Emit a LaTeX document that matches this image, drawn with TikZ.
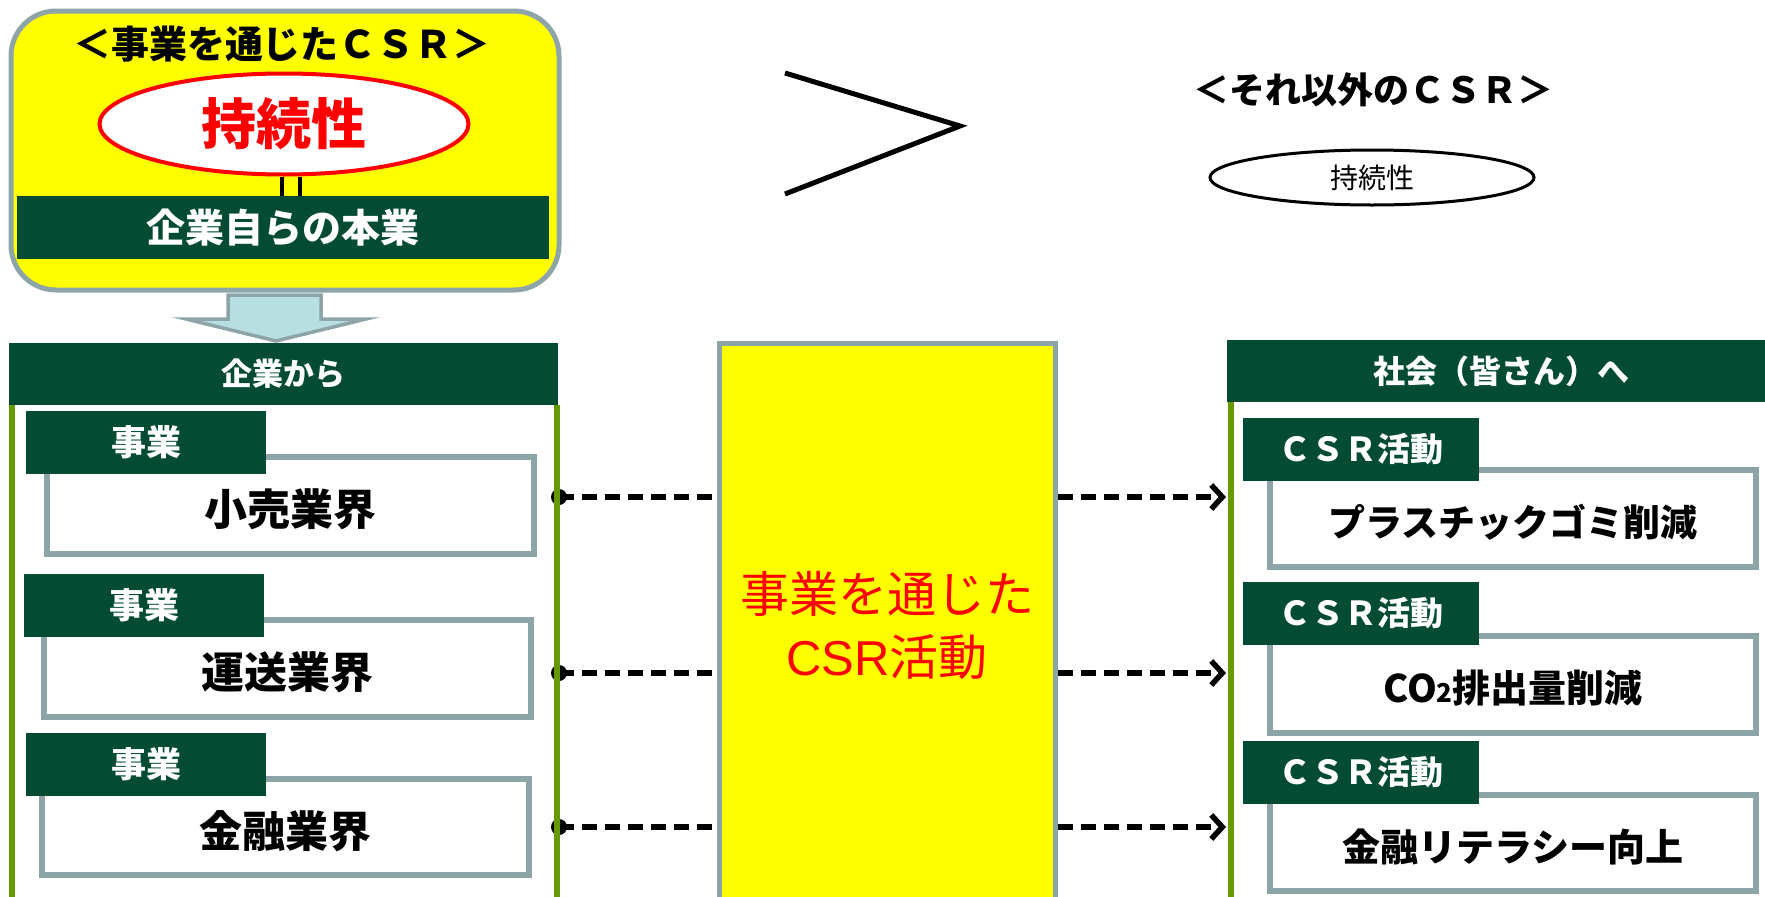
\documentclass[tikz,border=0pt]{standalone}
\usepackage{fontspec}
\setmainfont{Noto Sans CJK JP}
\newfontfamily\latinf{Liberation Sans}
\usetikzlibrary{arrows.meta,shapes.geometric}
\definecolor{dkgreen}{HTML}{034B33}
\definecolor{grayb}{HTML}{8DA5A8}
\definecolor{lgreen}{HTML}{669900}
\definecolor{lblue}{HTML}{B7DEE1}
\definecolor{pureyellow}{RGB}{255,255,0}
\newcommand{\myfs}[1]{\fontsize{#1}{#1}\selectfont}
\begin{document}
\begin{tikzpicture}[x=1pt,y=-1pt,
  tab/.style={fill=dkgreen, text=white, font=\bfseries\myfs{35}, minimum height=63pt, inner sep=0pt},
  itembox/.style={draw=grayb, line width=6pt, fill=white, minimum width=487pt, minimum height=97pt, inner sep=0pt},
  header/.style={fill=dkgreen, text=white, font=\bfseries\myfs{31}, minimum height=62pt, inner sep=0pt},
  greenline/.style={draw=lgreen, line width=5.5pt},
  conn/.style={line width=6pt, dash pattern=on 15pt off 8pt},
  endtip/.style={-{Straight Barb[length=11pt,width=24pt,line width=5.5pt]}}
]
\useasboundingbox (0,0) rectangle (1765,897);
\clip (0,0) rectangle (1765,897);

% ---------- top left ----------
\node[draw=grayb, line width=5pt, fill=pureyellow, rounded corners=45pt, minimum width=548pt, minimum height=279pt, inner sep=0pt] (topbox) at (285,150.5) {};
\node[font=\bfseries\myfs{38}] (toptitle) at (282,44) {＜事業を通じたＣＳＲ＞};
\node[ellipse, draw=red, line width=4pt, fill=white, minimum width=369pt, minimum height=101pt, inner sep=0pt, text=red, font=\bfseries\myfs{55}] (sus) at (284,124) {持続性};
\node[fill=dkgreen, text=white, font=\bfseries\myfs{39}, minimum width=532pt, minimum height=63pt, inner sep=0pt] (core) at (283,227.5) {企業自らの本業};
\draw[line width=3.5pt] ([xshift=-2pt]sus.south) -- ([xshift=-2pt]sus.south |- core.north);
\draw[line width=3.5pt] ([xshift=16pt]sus.south) -- ([xshift=16pt]sus.south |- core.north);

% block arrow
\draw[draw=grayb, line width=3.5pt, fill=lblue, line join=miter]
  (228,295) -- (321,295) -- (321,319) -- (366,319) -- (276,341) -- (186,319) -- (228,319) -- cycle;

% ---------- chevron ----------
\draw[line width=5pt, line join=miter] (785,73) -- (960,126) -- (785,194);

% ---------- top right ----------
\node[font=\bfseries\myfs{36}] (rtitle) at (1373,90) {＜それ以外のＣＳＲ＞};
\node[ellipse, draw, line width=3pt, minimum width=324pt, minimum height=55pt, inner sep=0pt, font=\myfs{28}] (rsus) at (1372,177.5) {持続性};

% ---------- left column ----------
\node[header, minimum width=549pt] (lhead) at (283.5,374) {企業から};
\coordinate (ll) at (12,405);
\coordinate (lr) at (557,405);

\node[itembox] (b1) at (290,505) {};
\node[font=\bfseries\myfs{43}] at (290,509) {小売業界};
\node[tab, minimum width=240pt] (t1) at (146,442) {事業};

\node[itembox] (b2) at (287.5,668) {};
\node[font=\bfseries\myfs{43}] at (287.5,672) {運送業界};
\node[tab, minimum width=240pt] (t2) at (144,605) {事業};

\node[itembox, minimum height=96pt] (b3) at (285,827) {};
\node[font=\bfseries\myfs{43}] at (285,831) {金融業界};
\node[tab, minimum width=240pt] (t3) at (146,764) {事業};

% ---------- centre ----------
\node[draw=grayb, line width=5pt, fill=pureyellow, minimum width=336pt, minimum height=580pt, inner sep=0pt] (ctr) at (887,633) {};
\node[text=red, font=\fontsize{49}{63}\selectfont, align=center] (ctrtext) at (887,625) {事業を通じた\\{\latinf CSR}活動};

% ---------- right column ----------
\node[header, minimum width=548pt, font=\bfseries\myfs{32}] (rhead) at (1501,371) {社会（皆さん）へ};
\coordinate (rl) at (1231,402);

\node[itembox, minimum width=486pt] (c1) at (1513,518.5) {};
\node[font=\bfseries\myfs{37}] at (1513,522) {プラスチックゴミ削減};
\node[tab, minimum width=236pt, font=\bfseries\myfs{33}] (s1) at (1361,449.5) {ＣＳＲ活動};

\node[itembox, minimum width=486pt] (c2) at (1513,684.5) {};
\node[font=\bfseries\myfs{38}] at (1513,688) {CO{\myfs{26}2}排出量削減};
\node[tab, minimum width=236pt, font=\bfseries\myfs{33}] (s2) at (1361,613.5) {ＣＳＲ活動};

\node[itembox, minimum width=486pt, minimum height=96pt] (c3) at (1513,843) {};
\node[font=\bfseries\myfs{38}] at (1513,847) {金融リテラシー向上};
\node[tab, minimum width=236pt, font=\bfseries\myfs{33}] (s3) at (1361,772.5) {ＣＳＲ活動};

% ---------- connectors ----------
\foreach \i/\yy in {1/497,2/673,3/827}{
  \coordinate (ls\i) at (559,\yy);
  \fill (ls\i) circle (8pt);
  \draw[conn] (ls\i) -- (ls\i -| ctr.west);
  \draw[conn, endtip] (ls\i -| ctr.east) -- ([xshift=-5pt]ls\i -| rl);
}

% green container lines (on top of the dots)
\draw[greenline] (ll) -- (12,900);
\draw[greenline] (lr) -- (557,900);
\draw[greenline] (rl) -- (1231,900);
\end{tikzpicture}
\end{document}
